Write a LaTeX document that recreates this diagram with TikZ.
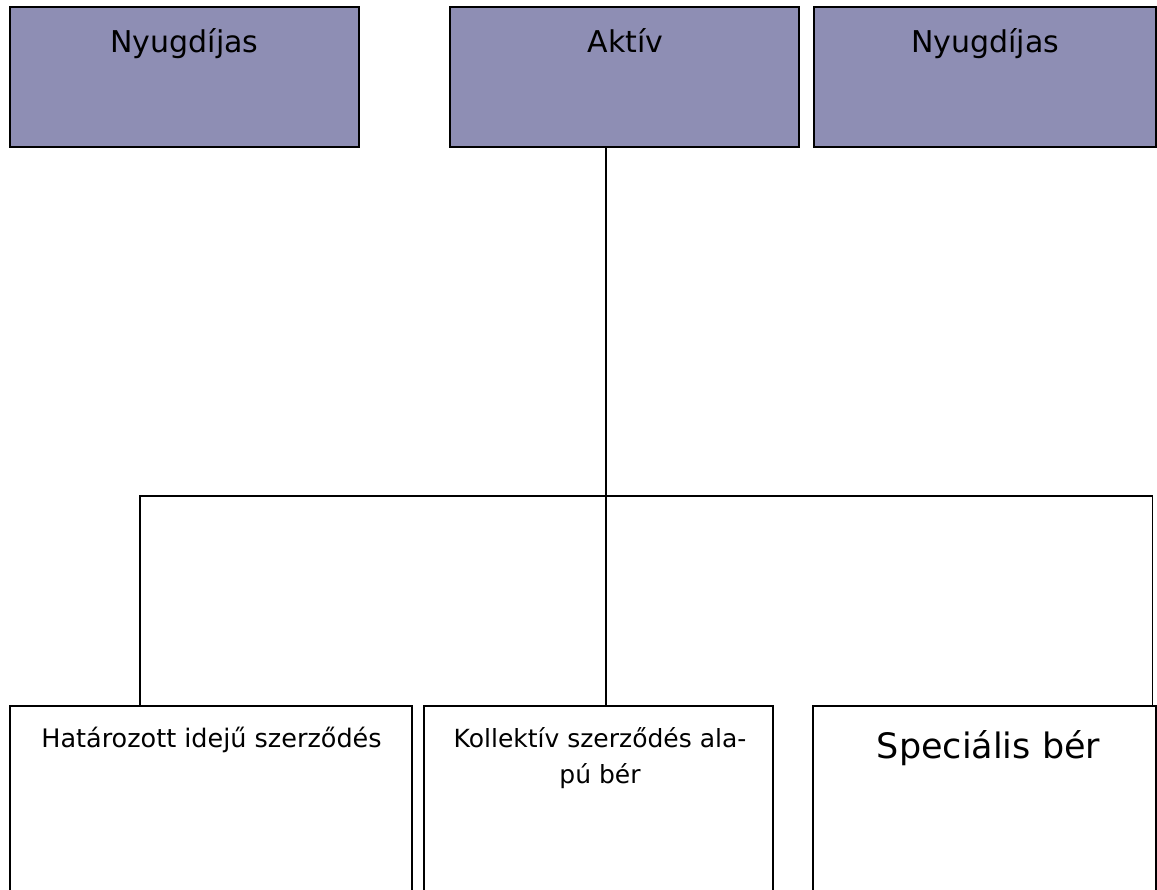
\documentclass[tikz,border=0pt]{standalone}
\usepackage{fontspec}
\setmainfont{DejaVu Sans}
\definecolor{boxfill}{RGB}{142,142,180}
\tikzset{
  topbox/.style={draw=black, fill=boxfill, line width=1.8pt, rectangle, inner sep=0pt},
  botbox/.style={draw=black, fill=white, line width=1.8pt, rectangle, inner sep=0pt},
  lbl/.style={inner sep=0pt, anchor=base, text=black},
  conn/.style={draw=black, line width=1.4pt}
}
\begin{document}
\begin{tikzpicture}[x=1pt, y=-1pt]
\useasboundingbox (0,0) rectangle (1157,890);
\clip (0,0) rectangle (1157,890);
\fill[white] (0,0) rectangle (1157,890);
% top boxes
\node[topbox, minimum width=349pt, minimum height=140pt] (tl) at (184.5,77) {};
\node[topbox, minimum width=349pt, minimum height=140pt] (tm) at (624.5,77) {};
\node[topbox, minimum width=342pt, minimum height=140pt] (tr) at (985,77) {};
% bottom boxes
\node[botbox, minimum width=402pt, minimum height=194pt] (bl) at (211,803) {};
\node[botbox, minimum width=349pt, minimum height=194pt] (bm) at (598.5,803) {};
\node[botbox, minimum width=343pt, minimum height=194pt] (br) at (984.5,803) {};
% labels
\node[lbl, font=\fontsize{30}{36}\selectfont] (tlt) at (184.5,53) {Nyugdíjas};
\node[lbl, font=\fontsize{30}{36}\selectfont] (tmt) at (625.5,53) {Aktív};
\node[lbl, font=\fontsize{30}{36}\selectfont] (trt) at (985,53) {Nyugdíjas};
\node[lbl, font=\fontsize{25.5}{36}\selectfont] (blt) at (211.5,747) {Határozott idejű szerződés};
\node[lbl, font=\fontsize{25}{36}\selectfont, align=center] (bmt) at (600,783) {Kollektív szerződés ala-\\pú bér};
\node[lbl, font=\fontsize{35}{42}\selectfont] (brt) at (988.5,758) {Speciális bér};
% connectors
\coordinate (hl) at (140,496);
\coordinate (hm) at (606,496);
\coordinate (hr) at (1152.5,496);
\draw[conn] (hm |- tm.south) -- (hm |- bm.north);
\draw[conn] (hl |- bl.north) -- (hl) -- (hr) -- (hr |- br.north);
\end{tikzpicture}
\end{document}
